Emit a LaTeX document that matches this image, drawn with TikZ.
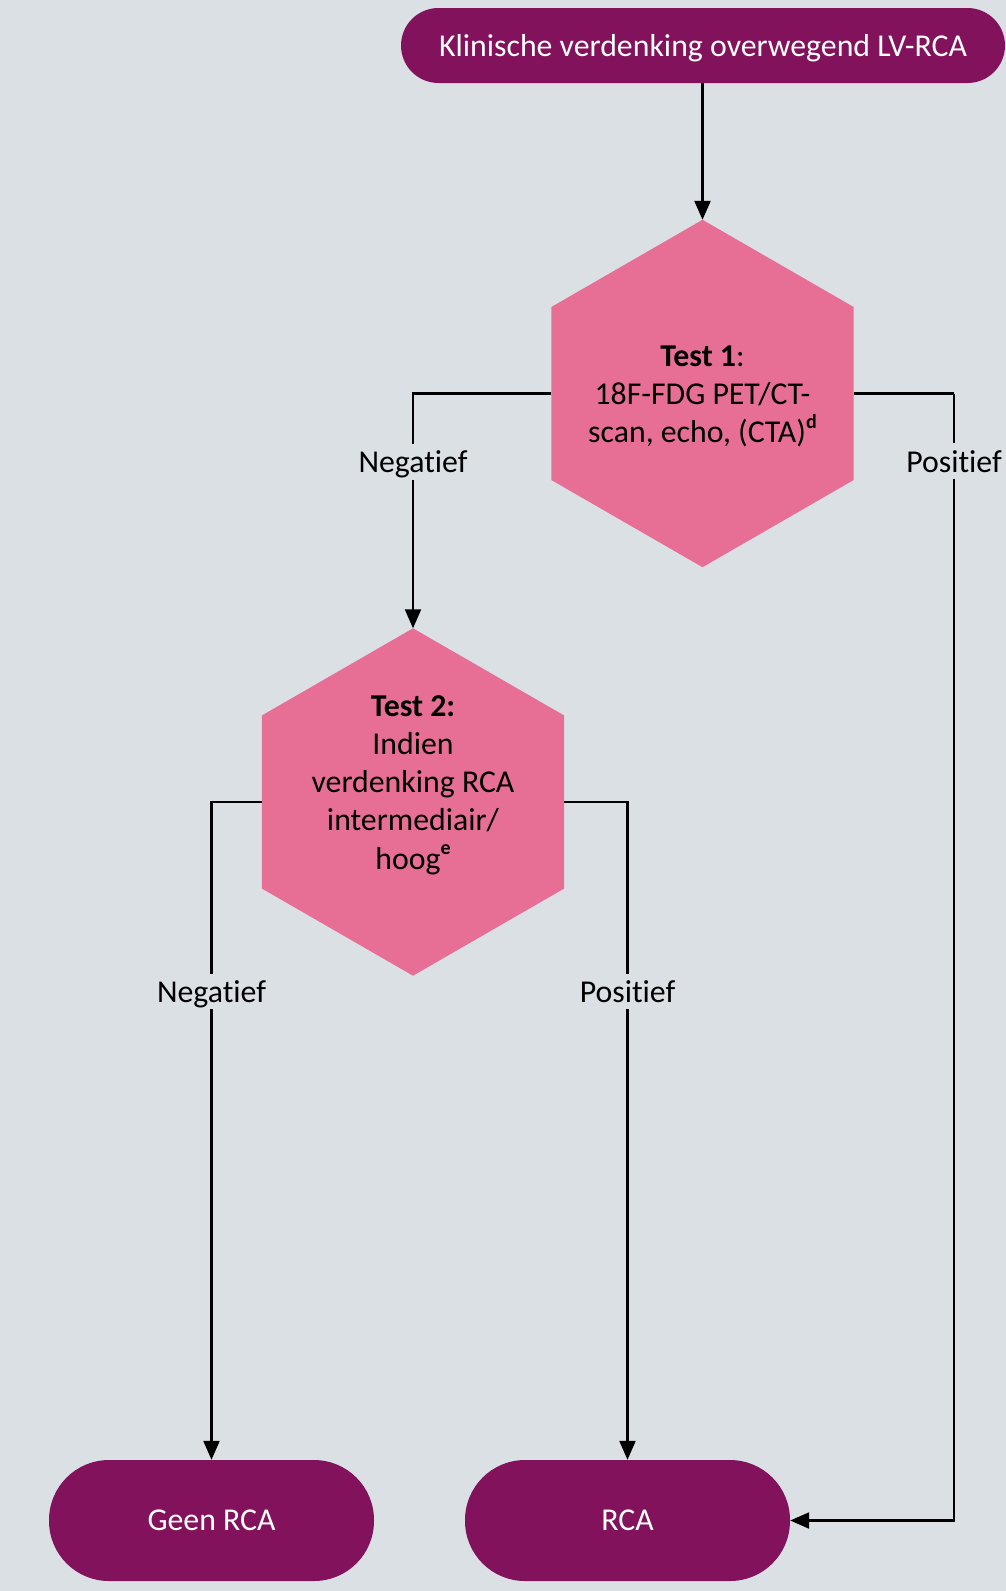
\documentclass[tikz,border=0pt]{standalone}
\usepackage{fontspec}
\setmainfont{Carlito}[Ligatures={NoCommon}]
\usetikzlibrary{arrows.meta,calc}
\definecolor{bgc}{HTML}{DAE0E4}
\definecolor{purp}{HTML}{82125B}
\definecolor{pinkc}{HTML}{E76F96}
\tikzset{
  term/.style={fill=purp, text=white, inner sep=0pt, text depth=0pt, font=\fontsize{31.8}{38.2}\selectfont},
  hexbox/.style={rectangle, inner sep=0pt, minimum width=302pt, minimum height=347pt},
  hexfill/.style={fill=pinkc},
  hextext/.style={align=center, font=\fontsize{31.8}{38.2}\selectfont, inner sep=0pt, yshift=-3pt},
  lbl/.style={fill=bgc, inner sep=4pt, text depth=0pt, inner ysep=7pt, font=\fontsize{31.8}{38.2}\selectfont},
  arr/.style={draw=black, line width=2.3pt, -{Triangle[length=19pt,width=16pt]}},
  conn/.style={draw=black, line width=2.3pt}
}
\newcommand{\hexpath}[1]{%
  \fill[hexfill] (#1.north) -- ([yshift=86.5pt]#1.east) -- ([yshift=-86.5pt]#1.east)
    -- (#1.south) -- ([yshift=-86.5pt]#1.west) -- ([yshift=86.5pt]#1.west) -- cycle;}
\newcommand{\supb}[1]{\raisebox{0.45em}{\fontsize{20}{20}\selectfont\textbf{#1}}}
\begin{document}
\begin{tikzpicture}[x=1pt,y=-1pt]
\fill[bgc] (0,0) rectangle (1006,1591);
\useasboundingbox (0,0) rectangle (1006,1591);

% nodes
\node[term, minimum width=604pt, minimum height=75pt, rounded corners=37.5pt] (start) at (703,45.5) {Klinische verdenking overwegend LV-RCA};
\node[hexbox] (h1) at (702.5,393.5) {};
\node[hexbox] (h2) at (413,802) {};
\node[term, minimum width=325pt, minimum height=121pt, rounded corners=60pt] (geen) at (211.5,1520.5) {Geen RCA};
\node[term, minimum width=325pt, minimum height=121pt, rounded corners=60pt] (rca) at (627.5,1520.5) {RCA};

\hexpath{h1}
\hexpath{h2}

\node[hextext] (t1) at (702.5,393.5) {\textbf{Test 1}:\\18F-FDG PET/CT-\\scan, echo, (CTA)\supb{d}};
\node[hextext] (t2) at (413,782) {\textbf{Test 2:}\\Indien\\verdenking RCA\\intermediair/\\hoog\supb{e}};

\coordinate (rp) at (954,393.5);

% connectors
\draw[arr] (start.south -| h1.north) -- (h1.north);
\draw[arr] (h1.west) -| node[lbl, pos=0.645] (l1) {Negatief} (h2.north);
\draw[conn] (h1.east) -- (rp);
\draw[arr] (rp) |- node[lbl, pos=0.03] (l2) {Positief} (rca.east);
\draw[arr] (h2.west) -| node[lbl, pos=0.644] (l3) {Negatief} (geen.north);
\draw[arr] (h2.east) -| node[lbl, pos=0.644] (l4) {Positief} (rca.north);
\end{tikzpicture}
\end{document}
